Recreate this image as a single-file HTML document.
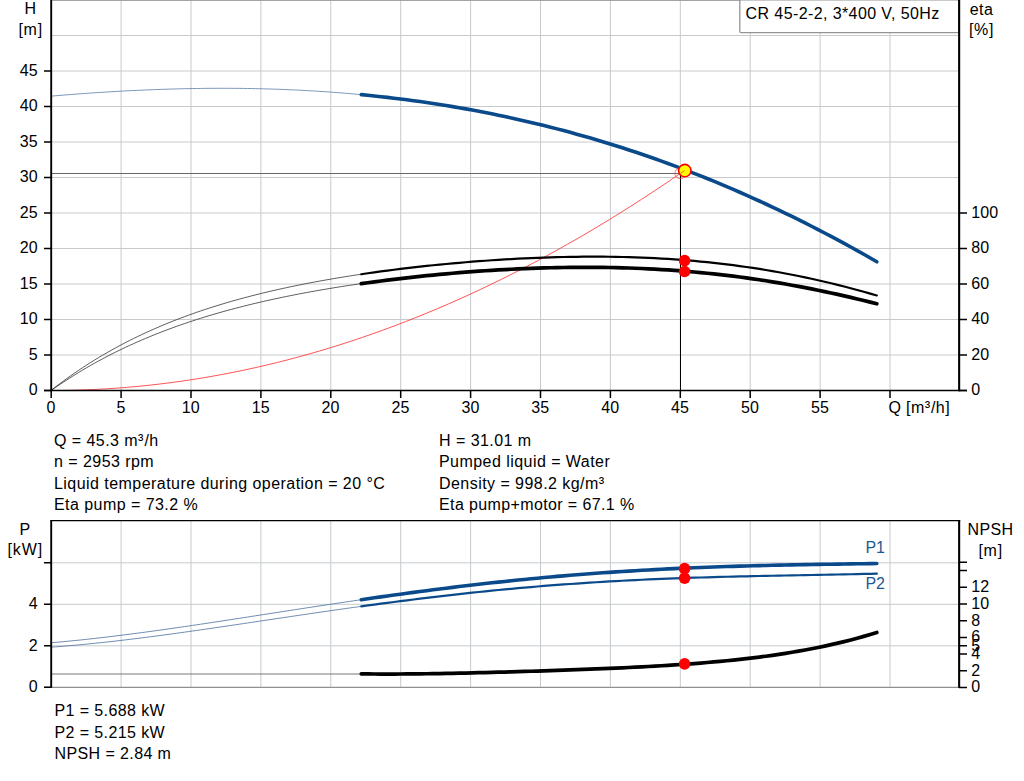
<!DOCTYPE html>
<html><head><meta charset="utf-8"><title>Pump curve</title>
<style>html,body{margin:0;padding:0;background:#fff;width:1024px;height:781px;overflow:hidden}</style></head>
<body>
<svg width="1024" height="781" viewBox="0 0 1024 781" style="position:absolute;left:0;top:0">
<rect width="1024" height="781" fill="#fff"/>
<path d="M121.1,0V390.5 M191.0,0V390.5 M260.9,0V390.5 M330.8,0V390.5 M400.7,0V390.5 M470.6,0V390.5 M540.5,0V390.5 M610.4,0V390.5 M680.3,0V390.5 M750.2,0V390.5 M820.1,0V390.5 M890.0,0V390.5 M51.2,355.00H959 M51.2,319.50H959 M51.2,284.00H959 M51.2,248.50H959 M51.2,213.00H959 M51.2,177.50H959 M51.2,142.00H959 M51.2,106.50H959 M51.2,71.00H959 M51.2,35.50H959" stroke="#c6cacd" stroke-width="1" fill="none"/>
<path d="M52,0.4H959" stroke="#999" stroke-width="1"/>
<path d="M121.1,521V687.3 M191.0,521V687.3 M260.9,521V687.3 M330.8,521V687.3 M400.7,521V687.3 M470.6,521V687.3 M540.5,521V687.3 M610.4,521V687.3 M680.3,521V687.3 M750.2,521V687.3 M820.1,521V687.3 M890.0,521V687.3 M51.2,645.80H959 M51.2,604.30H959 M51.2,562.80H959" stroke="#c6cacd" stroke-width="1" fill="none"/>
<path d="M45,687.3H959" stroke="#909090" stroke-width="1.2"/>
<path d="M51.2,173.5H680.5" stroke="#666" stroke-width="1"/>
<path d="M680.5,173.5V390.5" stroke="#000" stroke-width="1"/>
<path d="M51.20,390.50 L61.93,390.44 L72.67,390.25 L83.40,389.93 L94.14,389.49 L104.87,388.92 L115.60,388.22 L126.34,387.40 L137.07,386.46 L147.80,385.38 L158.54,384.18 L169.27,382.85 L180.01,381.40 L190.74,379.82 L201.47,378.11 L212.21,376.28 L222.94,374.32 L233.67,372.23 L244.41,370.02 L255.14,367.68 L265.88,365.22 L276.61,362.63 L287.34,359.91 L298.08,357.07 L308.81,354.10 L319.54,351.00 L330.28,347.78 L341.01,344.43 L351.75,340.95 L362.48,337.35 L373.21,333.62 L383.95,329.76 L394.68,325.78 L405.42,321.67 L416.15,317.44 L426.88,313.08 L437.62,308.59 L448.35,303.98 L459.08,299.24 L469.82,294.37 L480.55,289.38 L491.29,284.26 L502.02,279.01 L512.75,273.64 L523.49,268.14 L534.22,262.52 L544.95,256.77 L555.69,250.89 L566.42,244.88 L577.16,238.75 L587.89,232.50 L598.62,226.11 L609.36,219.60 L620.09,212.97 L630.83,206.20 L641.56,199.32 L652.29,192.30 L663.03,185.16 L673.76,177.89 L684.49,170.50" stroke="#ff2a2a" stroke-width="0.8" fill="none"/>
<path d="M51.20,96.13 L55.13,95.79 L59.05,95.47 L62.98,95.15 L66.90,94.84 L70.83,94.53 L74.75,94.23 L78.68,93.93 L82.60,93.65 L86.53,93.37 L90.45,93.09 L94.38,92.82 L98.30,92.56 L102.23,92.31 L106.15,92.06 L110.08,91.82 L114.01,91.59 L117.93,91.36 L121.86,91.14 L125.78,90.93 L129.71,90.73 L133.63,90.53 L137.56,90.35 L141.48,90.16 L145.41,89.99 L149.33,89.83 L153.26,89.67 L157.18,89.52 L161.11,89.38 L165.03,89.25 L168.96,89.12 L172.88,89.01 L176.81,88.90 L180.74,88.80 L184.66,88.71 L188.59,88.63 L192.51,88.56 L196.44,88.49 L200.36,88.44 L204.29,88.39 L208.21,88.35 L212.14,88.32 L216.06,88.30 L219.99,88.29 L223.91,88.29 L227.84,88.30 L231.76,88.32 L235.69,88.35 L239.62,88.38 L243.54,88.43 L247.47,88.49 L251.39,88.55 L255.32,88.63 L259.24,88.72 L263.17,88.81 L267.09,88.92 L271.02,89.04 L274.94,89.16 L278.87,89.30 L282.79,89.45 L286.72,89.60 L290.64,89.77 L294.57,89.95 L298.49,90.14 L302.42,90.34 L306.35,90.55 L310.27,90.77 L314.20,91.00 L318.12,91.25 L322.05,91.50 L325.97,91.77 L329.90,92.04 L333.82,92.33 L337.75,92.63 L341.67,92.94 L345.60,93.26 L349.52,93.59 L353.45,93.94 L357.37,94.29 L361.30,94.66" stroke="#5b7ea8" stroke-width="0.8" fill="none"/>
<path d="M361.30,94.66 L367.83,95.30 L374.35,95.97 L380.88,96.67 L387.40,97.40 L393.93,98.17 L400.45,98.97 L406.98,99.81 L413.50,100.68 L420.03,101.58 L426.55,102.52 L433.08,103.49 L439.60,104.50 L446.13,105.54 L452.65,106.62 L459.18,107.73 L465.71,108.88 L472.23,110.07 L478.76,111.29 L485.28,112.55 L491.81,113.85 L498.33,115.18 L504.86,116.55 L511.38,117.96 L517.91,119.40 L524.43,120.89 L530.96,122.41 L537.48,123.97 L544.01,125.57 L550.53,127.20 L557.06,128.88 L563.58,130.59 L570.11,132.35 L576.64,134.14 L583.16,135.97 L589.69,137.85 L596.21,139.76 L602.74,141.71 L609.26,143.70 L615.79,145.74 L622.31,147.81 L628.84,149.93 L635.36,152.08 L641.89,154.28 L648.41,156.51 L654.94,158.79 L661.46,161.11 L667.99,163.48 L674.52,165.88 L681.04,168.33 L687.57,170.81 L694.09,173.34 L700.62,175.92 L707.14,178.53 L713.67,181.19 L720.19,183.89 L726.72,186.63 L733.24,189.42 L739.77,192.25 L746.29,195.12 L752.82,198.04 L759.34,200.99 L765.87,204.00 L772.39,207.04 L778.92,210.13 L785.45,213.26 L791.97,216.44 L798.50,219.66 L805.02,222.93 L811.55,226.24 L818.07,229.59 L824.60,232.99 L831.12,236.43 L837.65,239.91 L844.17,243.44 L850.70,247.02 L857.22,250.64 L863.75,254.30 L870.27,258.01 L876.80,261.77" stroke="#0a4a8a" stroke-width="3.6" fill="none" stroke-linecap="round"/>
<path d="M51.20,390.28 L55.13,387.23 L59.05,384.25 L62.98,381.33 L66.90,378.48 L70.83,375.68 L74.75,372.95 L78.68,370.28 L82.60,367.67 L86.53,365.12 L90.45,362.62 L94.38,360.17 L98.30,357.78 L102.23,355.44 L106.15,353.16 L110.08,350.92 L114.01,348.73 L117.93,346.59 L121.86,344.50 L125.78,342.45 L129.71,340.45 L133.63,338.49 L137.56,336.58 L141.48,334.71 L145.41,332.88 L149.33,331.08 L153.26,329.33 L157.18,327.62 L161.11,325.94 L165.03,324.30 L168.96,322.70 L172.88,321.13 L176.81,319.59 L180.74,318.09 L184.66,316.62 L188.59,315.19 L192.51,313.78 L196.44,312.40 L200.36,311.06 L204.29,309.74 L208.21,308.45 L212.14,307.18 L216.06,305.95 L219.99,304.74 L223.91,303.55 L227.84,302.40 L231.76,301.26 L235.69,300.15 L239.62,299.06 L243.54,297.99 L247.47,296.95 L251.39,295.93 L255.32,294.93 L259.24,293.95 L263.17,292.98 L267.09,292.04 L271.02,291.12 L274.94,290.21 L278.87,289.33 L282.79,288.46 L286.72,287.61 L290.64,286.77 L294.57,285.96 L298.49,285.15 L302.42,284.37 L306.35,283.59 L310.27,282.84 L314.20,282.10 L318.12,281.37 L322.05,280.66 L325.97,279.96 L329.90,279.27 L333.82,278.59 L337.75,277.93 L341.67,277.29 L345.60,276.65 L349.52,276.03 L353.45,275.41 L357.37,274.81 L361.30,274.23" stroke="#333" stroke-width="0.8" fill="none"/>
<path d="M361.30,274.23 L367.83,273.27 L374.35,272.35 L380.88,271.45 L387.40,270.59 L393.93,269.75 L400.45,268.94 L406.98,268.15 L413.50,267.39 L420.03,266.66 L426.55,265.96 L433.08,265.28 L439.60,264.62 L446.13,263.99 L452.65,263.38 L459.18,262.80 L465.71,262.25 L472.23,261.72 L478.76,261.21 L485.28,260.73 L491.81,260.27 L498.33,259.84 L504.86,259.44 L511.38,259.06 L517.91,258.71 L524.43,258.38 L530.96,258.08 L537.48,257.81 L544.01,257.56 L550.53,257.35 L557.06,257.16 L563.58,257.00 L570.11,256.88 L576.64,256.78 L583.16,256.71 L589.69,256.68 L596.21,256.67 L602.74,256.70 L609.26,256.77 L615.79,256.86 L622.31,257.00 L628.84,257.16 L635.36,257.37 L641.89,257.61 L648.41,257.89 L654.94,258.20 L661.46,258.56 L667.99,258.95 L674.52,259.38 L681.04,259.86 L687.57,260.37 L694.09,260.93 L700.62,261.53 L707.14,262.18 L713.67,262.86 L720.19,263.60 L726.72,264.37 L733.24,265.20 L739.77,266.06 L746.29,266.98 L752.82,267.94 L759.34,268.95 L765.87,270.01 L772.39,271.11 L778.92,272.26 L785.45,273.46 L791.97,274.72 L798.50,276.02 L805.02,277.36 L811.55,278.76 L818.07,280.21 L824.60,281.71 L831.12,283.26 L837.65,284.86 L844.17,286.51 L850.70,288.20 L857.22,289.95 L863.75,291.74 L870.27,293.59 L876.80,295.48" stroke="#000" stroke-width="2.2" fill="none" stroke-linecap="round"/>
<path d="M51.20,390.46 L55.13,387.72 L59.05,385.03 L62.98,382.41 L66.90,379.83 L70.83,377.31 L74.75,374.85 L78.68,372.44 L82.60,370.08 L86.53,367.77 L90.45,365.51 L94.38,363.29 L98.30,361.13 L102.23,359.01 L106.15,356.93 L110.08,354.90 L114.01,352.92 L117.93,350.97 L121.86,349.07 L125.78,347.21 L129.71,345.38 L133.63,343.60 L137.56,341.85 L141.48,340.14 L145.41,338.47 L149.33,336.83 L153.26,335.22 L157.18,333.65 L161.11,332.11 L165.03,330.61 L168.96,329.13 L172.88,327.69 L176.81,326.28 L180.74,324.89 L184.66,323.54 L188.59,322.21 L192.51,320.91 L196.44,319.63 L200.36,318.38 L204.29,317.16 L208.21,315.96 L212.14,314.79 L216.06,313.64 L219.99,312.51 L223.91,311.41 L227.84,310.33 L231.76,309.27 L235.69,308.23 L239.62,307.21 L243.54,306.21 L247.47,305.23 L251.39,304.27 L255.32,303.32 L259.24,302.40 L263.17,301.49 L267.09,300.60 L271.02,299.73 L274.94,298.88 L278.87,298.04 L282.79,297.22 L286.72,296.41 L290.64,295.62 L294.57,294.84 L298.49,294.07 L302.42,293.33 L306.35,292.59 L310.27,291.87 L314.20,291.16 L318.12,290.47 L322.05,289.79 L325.97,289.12 L329.90,288.46 L333.82,287.81 L337.75,287.18 L341.67,286.56 L345.60,285.95 L349.52,285.35 L353.45,284.77 L357.37,284.19 L361.30,283.62" stroke="#333" stroke-width="0.8" fill="none"/>
<path d="M361.30,283.62 L367.83,282.71 L374.35,281.82 L380.88,280.96 L387.40,280.13 L393.93,279.32 L400.45,278.55 L406.98,277.80 L413.50,277.07 L420.03,276.37 L426.55,275.70 L433.08,275.05 L439.60,274.42 L446.13,273.83 L452.65,273.25 L459.18,272.70 L465.71,272.18 L472.23,271.68 L478.76,271.21 L485.28,270.76 L491.81,270.34 L498.33,269.95 L504.86,269.58 L511.38,269.23 L517.91,268.92 L524.43,268.63 L530.96,268.37 L537.48,268.13 L544.01,267.93 L550.53,267.75 L557.06,267.60 L563.58,267.48 L570.11,267.39 L576.64,267.33 L583.16,267.30 L589.69,267.31 L596.21,267.34 L602.74,267.41 L609.26,267.51 L615.79,267.64 L622.31,267.81 L628.84,268.01 L635.36,268.24 L641.89,268.51 L648.41,268.81 L654.94,269.15 L661.46,269.53 L667.99,269.95 L674.52,270.40 L681.04,270.88 L687.57,271.41 L694.09,271.98 L700.62,272.58 L707.14,273.22 L713.67,273.90 L720.19,274.62 L726.72,275.38 L733.24,276.18 L739.77,277.02 L746.29,277.90 L752.82,278.83 L759.34,279.79 L765.87,280.79 L772.39,281.83 L778.92,282.91 L785.45,284.03 L791.97,285.20 L798.50,286.40 L805.02,287.64 L811.55,288.92 L818.07,290.24 L824.60,291.60 L831.12,292.99 L837.65,294.42 L844.17,295.89 L850.70,297.40 L857.22,298.94 L863.75,300.52 L870.27,302.13 L876.80,303.77" stroke="#000" stroke-width="3.7" fill="none" stroke-linecap="round"/>
<path d="M51.20,642.76 L55.13,642.42 L59.05,642.07 L62.98,641.70 L66.90,641.33 L70.83,640.95 L74.75,640.56 L78.68,640.16 L82.60,639.75 L86.53,639.33 L90.45,638.90 L94.38,638.46 L98.30,638.02 L102.23,637.56 L106.15,637.10 L110.08,636.63 L114.01,636.16 L117.93,635.67 L121.86,635.18 L125.78,634.69 L129.71,634.18 L133.63,633.67 L137.56,633.16 L141.48,632.64 L145.41,632.11 L149.33,631.58 L153.26,631.04 L157.18,630.50 L161.11,629.95 L165.03,629.40 L168.96,628.84 L172.88,628.28 L176.81,627.71 L180.74,627.14 L184.66,626.57 L188.59,626.00 L192.51,625.42 L196.44,624.83 L200.36,624.25 L204.29,623.66 L208.21,623.07 L212.14,622.48 L216.06,621.88 L219.99,621.28 L223.91,620.68 L227.84,620.08 L231.76,619.48 L235.69,618.88 L239.62,618.27 L243.54,617.66 L247.47,617.06 L251.39,616.45 L255.32,615.84 L259.24,615.23 L263.17,614.62 L267.09,614.01 L271.02,613.40 L274.94,612.79 L278.87,612.18 L282.79,611.58 L286.72,610.97 L290.64,610.36 L294.57,609.75 L298.49,609.15 L302.42,608.54 L306.35,607.94 L310.27,607.34 L314.20,606.74 L318.12,606.14 L322.05,605.54 L325.97,604.95 L329.90,604.36 L333.82,603.77 L337.75,603.18 L341.67,602.59 L345.60,602.01 L349.52,601.42 L353.45,600.85 L357.37,600.27 L361.30,599.70" stroke="#4a6f9c" stroke-width="0.8" fill="none"/>
<path d="M361.30,599.70 L367.83,598.75 L374.35,597.81 L380.88,596.88 L387.40,595.97 L393.93,595.06 L400.45,594.16 L406.98,593.27 L413.50,592.39 L420.03,591.52 L426.55,590.67 L433.08,589.83 L439.60,589.00 L446.13,588.18 L452.65,587.38 L459.18,586.58 L465.71,585.80 L472.23,585.04 L478.76,584.29 L485.28,583.55 L491.81,582.83 L498.33,582.12 L504.86,581.43 L511.38,580.75 L517.91,580.08 L524.43,579.43 L530.96,578.80 L537.48,578.18 L544.01,577.57 L550.53,576.98 L557.06,576.41 L563.58,575.85 L570.11,575.30 L576.64,574.77 L583.16,574.26 L589.69,573.76 L596.21,573.28 L602.74,572.81 L609.26,572.36 L615.79,571.92 L622.31,571.49 L628.84,571.08 L635.36,570.69 L641.89,570.31 L648.41,569.94 L654.94,569.58 L661.46,569.25 L667.99,568.92 L674.52,568.61 L681.04,568.31 L687.57,568.02 L694.09,567.75 L700.62,567.48 L707.14,567.23 L713.67,566.99 L720.19,566.77 L726.72,566.55 L733.24,566.34 L739.77,566.15 L746.29,565.96 L752.82,565.78 L759.34,565.61 L765.87,565.45 L772.39,565.30 L778.92,565.16 L785.45,565.02 L791.97,564.89 L798.50,564.76 L805.02,564.64 L811.55,564.53 L818.07,564.42 L824.60,564.31 L831.12,564.21 L837.65,564.11 L844.17,564.01 L850.70,563.92 L857.22,563.82 L863.75,563.72 L870.27,563.63 L876.80,563.53" stroke="#0a4a8a" stroke-width="3.6" fill="none" stroke-linecap="round"/>
<path d="M51.20,647.16 L55.13,646.87 L59.05,646.57 L62.98,646.25 L66.90,645.92 L70.83,645.59 L74.75,645.24 L78.68,644.88 L82.60,644.51 L86.53,644.13 L90.45,643.74 L94.38,643.34 L98.30,642.93 L102.23,642.52 L106.15,642.09 L110.08,641.66 L114.01,641.22 L117.93,640.77 L121.86,640.31 L125.78,639.84 L129.71,639.37 L133.63,638.89 L137.56,638.41 L141.48,637.91 L145.41,637.41 L149.33,636.91 L153.26,636.40 L157.18,635.88 L161.11,635.36 L165.03,634.84 L168.96,634.30 L172.88,633.77 L176.81,633.23 L180.74,632.68 L184.66,632.14 L188.59,631.58 L192.51,631.03 L196.44,630.47 L200.36,629.91 L204.29,629.34 L208.21,628.77 L212.14,628.20 L216.06,627.63 L219.99,627.06 L223.91,626.48 L227.84,625.90 L231.76,625.32 L235.69,624.74 L239.62,624.16 L243.54,623.57 L247.47,622.99 L251.39,622.40 L255.32,621.82 L259.24,621.23 L263.17,620.64 L267.09,620.06 L271.02,619.47 L274.94,618.88 L278.87,618.30 L282.79,617.71 L286.72,617.13 L290.64,616.55 L294.57,615.96 L298.49,615.38 L302.42,614.80 L306.35,614.22 L310.27,613.65 L314.20,613.07 L318.12,612.50 L322.05,611.93 L325.97,611.36 L329.90,610.79 L333.82,610.23 L337.75,609.66 L341.67,609.11 L345.60,608.55 L349.52,608.00 L353.45,607.44 L357.37,606.90 L361.30,606.35" stroke="#4a6f9c" stroke-width="0.8" fill="none"/>
<path d="M361.30,606.35 L367.83,605.46 L374.35,604.57 L380.88,603.69 L387.40,602.82 L393.93,601.97 L400.45,601.12 L406.98,600.29 L413.50,599.47 L420.03,598.66 L426.55,597.86 L433.08,597.08 L439.60,596.31 L446.13,595.55 L452.65,594.81 L459.18,594.08 L465.71,593.37 L472.23,592.67 L478.76,591.98 L485.28,591.31 L491.81,590.65 L498.33,590.01 L504.86,589.39 L511.38,588.78 L517.91,588.18 L524.43,587.60 L530.96,587.04 L537.48,586.49 L544.01,585.96 L550.53,585.44 L557.06,584.94 L563.58,584.45 L570.11,583.98 L576.64,583.53 L583.16,583.09 L589.69,582.66 L596.21,582.25 L602.74,581.85 L609.26,581.47 L615.79,581.10 L622.31,580.75 L628.84,580.41 L635.36,580.08 L641.89,579.77 L648.41,579.47 L654.94,579.18 L661.46,578.91 L667.99,578.65 L674.52,578.39 L681.04,578.15 L687.57,577.93 L694.09,577.71 L700.62,577.50 L707.14,577.30 L713.67,577.11 L720.19,576.93 L726.72,576.76 L733.24,576.59 L739.77,576.43 L746.29,576.28 L752.82,576.14 L759.34,576.00 L765.87,575.86 L772.39,575.73 L778.92,575.60 L785.45,575.48 L791.97,575.36 L798.50,575.24 L805.02,575.11 L811.55,574.99 L818.07,574.87 L824.60,574.75 L831.12,574.63 L837.65,574.50 L844.17,574.36 L850.70,574.23 L857.22,574.09 L863.75,573.94 L870.27,573.78 L876.80,573.61" stroke="#0a4a8a" stroke-width="2.2" fill="none" stroke-linecap="round"/>
<path d="M51.2,674H361.30" stroke="#555" stroke-width="0.8" fill="none"/>
<path d="M361.30,673.88 L367.83,673.95 L374.35,674.00 L380.88,674.04 L387.40,674.05 L393.93,674.04 L400.45,674.01 L406.98,673.97 L413.50,673.91 L420.03,673.84 L426.55,673.76 L433.08,673.66 L439.60,673.56 L446.13,673.44 L452.65,673.31 L459.18,673.18 L465.71,673.03 L472.23,672.88 L478.76,672.72 L485.28,672.56 L491.81,672.39 L498.33,672.21 L504.86,672.03 L511.38,671.84 L517.91,671.65 L524.43,671.46 L530.96,671.25 L537.48,671.05 L544.01,670.84 L550.53,670.62 L557.06,670.40 L563.58,670.18 L570.11,669.94 L576.64,669.71 L583.16,669.46 L589.69,669.21 L596.21,668.95 L602.74,668.68 L609.26,668.41 L615.79,668.12 L622.31,667.82 L628.84,667.51 L635.36,667.19 L641.89,666.86 L648.41,666.51 L654.94,666.15 L661.46,665.77 L667.99,665.37 L674.52,664.95 L681.04,664.51 L687.57,664.05 L694.09,663.57 L700.62,663.06 L707.14,662.53 L713.67,661.96 L720.19,661.37 L726.72,660.74 L733.24,660.08 L739.77,659.39 L746.29,658.65 L752.82,657.88 L759.34,657.07 L765.87,656.21 L772.39,655.30 L778.92,654.35 L785.45,653.34 L791.97,652.29 L798.50,651.17 L805.02,650.00 L811.55,648.77 L818.07,647.47 L824.60,646.11 L831.12,644.68 L837.65,643.17 L844.17,641.59 L850.70,639.94 L857.22,638.20 L863.75,636.38 L870.27,634.47 L876.80,632.47" stroke="#000" stroke-width="3.7" fill="none" stroke-linecap="round"/>
<rect x="739.8" y="-0.2" width="219" height="32.9" rx="1.5" fill="#fff" stroke="#949494" stroke-width="1.3"/>
<path d="M51.2,0V391.2" stroke="#000" stroke-width="1.9" fill="none"/>
<path d="M959.15,0V391.2" stroke="#000" stroke-width="2.1" fill="none"/>
<path d="M44,390.5H967" stroke="#000" stroke-width="1.5" fill="none"/>
<path d="M44,390.50H51 M44,355.00H51 M44,319.50H51 M44,284.00H51 M44,248.50H51 M44,213.00H51 M44,177.50H51 M44,142.00H51 M44,106.50H51 M44,71.00H51 M959,390.50H967 M959,355.00H967 M959,319.50H967 M959,284.00H967 M959,248.50H967 M959,213.00H967 M51.20,390.5V398 M121.10,390.5V398 M191.00,390.5V398 M260.90,390.5V398 M330.80,390.5V398 M400.70,390.5V398 M470.60,390.5V398 M540.50,390.5V398 M610.40,390.5V398 M680.30,390.5V398 M750.20,390.5V398 M820.10,390.5V398 M890.00,390.5V398" stroke="#000" stroke-width="1.5" fill="none"/>
<path d="M51.2,520V687.8" stroke="#000" stroke-width="1.9" fill="none"/>
<path d="M959.15,520V687.8" stroke="#000" stroke-width="2.1" fill="none"/>
<path d="M50.4,520.6H960.2" stroke="#000" stroke-width="1.2" fill="none"/>
<path d="M44,687.30H51 M44,645.80H51 M44,604.30H51 M44,562.80H51 M959,687.50H967 M959,670.80H967 M959,654.10H967 M959,645.75H967 M959,637.40H967 M959,620.70H967 M959,604.00H967 M959,587.30H967 M959,570.60H967 M959,562.25H967" stroke="#000" stroke-width="1.5" fill="none"/>
<circle cx="680.2" cy="173.4" r="5.3" fill="none" stroke="#ff3b3b" stroke-width="0.7"/>
<circle cx="684.8" cy="170.6" r="6.2" fill="#ffff00" stroke="#f00" stroke-width="1.6"/>
<path d="M680.2,173.4L684.8,170.6" stroke="#ff2a2a" stroke-width="0.7"/>
<circle cx="684.6" cy="260.6" r="5.8" fill="#ff0000"/>
<circle cx="684.6" cy="271.5" r="5.8" fill="#ff0000"/>
<circle cx="684.6" cy="568.6" r="5.8" fill="#ff0000"/>
<circle cx="684.6" cy="578.2" r="5.8" fill="#ff0000"/>
<circle cx="684.6" cy="663.9" r="5.8" fill="#ff0000"/>
<g font-family="Liberation Sans, sans-serif" font-size="16px">
<text x="745.6" y="18.8" text-anchor="start" fill="#000" letter-spacing="0.4">CR 45-2-2, 3*400 V, 50Hz</text>
<text x="30.5" y="14.2" text-anchor="middle" fill="#000" letter-spacing="0.4">H</text>
<text x="30.7" y="34.8" text-anchor="middle" fill="#000" letter-spacing="0.8">[m]</text>
<text x="981.5" y="14.5" text-anchor="middle" fill="#000" letter-spacing="0.4">eta</text>
<text x="981.5" y="34.8" text-anchor="middle" fill="#000" letter-spacing="0.6">[%]</text>
<text x="37.8" y="395.3" text-anchor="end" fill="#000" letter-spacing="0.1">0</text>
<text x="37.8" y="359.8" text-anchor="end" fill="#000" letter-spacing="0.1">5</text>
<text x="37.8" y="324.3" text-anchor="end" fill="#000" letter-spacing="0.1">10</text>
<text x="37.8" y="288.8" text-anchor="end" fill="#000" letter-spacing="0.1">15</text>
<text x="37.8" y="253.3" text-anchor="end" fill="#000" letter-spacing="0.1">20</text>
<text x="37.8" y="217.8" text-anchor="end" fill="#000" letter-spacing="0.1">25</text>
<text x="37.8" y="182.3" text-anchor="end" fill="#000" letter-spacing="0.1">30</text>
<text x="37.8" y="146.8" text-anchor="end" fill="#000" letter-spacing="0.1">35</text>
<text x="37.8" y="111.3" text-anchor="end" fill="#000" letter-spacing="0.1">40</text>
<text x="37.8" y="75.8" text-anchor="end" fill="#000" letter-spacing="0.1">45</text>
<text x="971.3" y="395.3" text-anchor="start" fill="#000" letter-spacing="0.1">0</text>
<text x="971.3" y="359.8" text-anchor="start" fill="#000" letter-spacing="0.1">20</text>
<text x="971.3" y="324.3" text-anchor="start" fill="#000" letter-spacing="0.1">40</text>
<text x="971.3" y="288.8" text-anchor="start" fill="#000" letter-spacing="0.1">60</text>
<text x="971.3" y="253.3" text-anchor="start" fill="#000" letter-spacing="0.1">80</text>
<text x="971.3" y="217.8" text-anchor="start" fill="#000" letter-spacing="0.1">100</text>
<text x="51.0" y="412.7" text-anchor="middle" fill="#000" letter-spacing="0.1">0</text>
<text x="120.9" y="412.7" text-anchor="middle" fill="#000" letter-spacing="0.1">5</text>
<text x="190.8" y="412.7" text-anchor="middle" fill="#000" letter-spacing="0.1">10</text>
<text x="260.70000000000005" y="412.7" text-anchor="middle" fill="#000" letter-spacing="0.1">15</text>
<text x="330.6" y="412.7" text-anchor="middle" fill="#000" letter-spacing="0.1">20</text>
<text x="400.5" y="412.7" text-anchor="middle" fill="#000" letter-spacing="0.1">25</text>
<text x="470.40000000000003" y="412.7" text-anchor="middle" fill="#000" letter-spacing="0.1">30</text>
<text x="540.3" y="412.7" text-anchor="middle" fill="#000" letter-spacing="0.1">35</text>
<text x="610.2" y="412.7" text-anchor="middle" fill="#000" letter-spacing="0.1">40</text>
<text x="680.1" y="412.7" text-anchor="middle" fill="#000" letter-spacing="0.1">45</text>
<text x="750.0" y="412.7" text-anchor="middle" fill="#000" letter-spacing="0.1">50</text>
<text x="819.9" y="412.7" text-anchor="middle" fill="#000" letter-spacing="0.1">55</text>
<text x="888.4" y="412.9" text-anchor="start" fill="#000" letter-spacing="0.4">Q [m<tspan dy="-0.9" font-size="16.3" letter-spacing="0.9">³</tspan><tspan dy="0.9">/h]</tspan></text>
<text x="54" y="445.6" text-anchor="start" fill="#000" letter-spacing="0.45">Q = 45.3 m<tspan dy="-0.9" font-size="16.3" letter-spacing="0.9">³</tspan><tspan dy="0.9">/h</tspan></text>
<text x="54" y="466.7" text-anchor="start" fill="#000" letter-spacing="0.45">n = 2953 rpm</text>
<text x="54" y="488.5" text-anchor="start" fill="#000" letter-spacing="0.45">Liquid temperature during operation = 20 °C</text>
<text x="54" y="509.6" text-anchor="start" fill="#000" letter-spacing="0.45">Eta pump = 73.2 %</text>
<text x="439" y="445.6" text-anchor="start" fill="#000" letter-spacing="0.46">H = 31.01 m</text>
<text x="439" y="466.7" text-anchor="start" fill="#000" letter-spacing="0.45">Pumped liquid = Water</text>
<text x="439" y="488.5" text-anchor="start" fill="#000" letter-spacing="0.45">Density = 998.2 kg/m<tspan dy="-0.9" font-size="16.3" letter-spacing="0.9">³</tspan></text>
<text x="439" y="509.6" text-anchor="start" fill="#000" letter-spacing="0.38">Eta pump+motor = 67.1 %</text>
<text x="25" y="534.8" text-anchor="middle" fill="#000" letter-spacing="0.4">P</text>
<text x="25.3" y="554.8" text-anchor="middle" fill="#000" letter-spacing="0.9">[kW]</text>
<text x="990.5" y="534.5" text-anchor="middle" fill="#000" letter-spacing="0.4">NPSH</text>
<text x="990.7" y="555.6" text-anchor="middle" fill="#000" letter-spacing="0.8">[m]</text>
<text x="37.8" y="692.0999999999999" text-anchor="end" fill="#000" letter-spacing="0.1">0</text>
<text x="37.8" y="650.5999999999999" text-anchor="end" fill="#000" letter-spacing="0.1">2</text>
<text x="37.8" y="609.0999999999999" text-anchor="end" fill="#000" letter-spacing="0.1">4</text>
<text x="971.3" y="692.3" text-anchor="start" fill="#000" letter-spacing="0.1">0</text>
<text x="971.3" y="675.5999999999999" text-anchor="start" fill="#000" letter-spacing="0.1">2</text>
<text x="971.3" y="658.9" text-anchor="start" fill="#000" letter-spacing="0.1">4</text>
<text x="971.3" y="650.55" text-anchor="start" fill="#000" letter-spacing="0.1">5</text>
<text x="971.3" y="642.1999999999999" text-anchor="start" fill="#000" letter-spacing="0.1">6</text>
<text x="971.3" y="625.5" text-anchor="start" fill="#000" letter-spacing="0.1">8</text>
<text x="971.3" y="608.8" text-anchor="start" fill="#000" letter-spacing="0.1">10</text>
<text x="971.3" y="592.0999999999999" text-anchor="start" fill="#000" letter-spacing="0.1">12</text>
<text x="865.4" y="552.9" text-anchor="start" fill="#1c5894" letter-spacing="0">P1</text>
<text x="865.4" y="588.8" text-anchor="start" fill="#1c5894" letter-spacing="0">P2</text>
<text x="54.5" y="716" text-anchor="start" fill="#000" letter-spacing="0.4">P1 = 5.688 kW</text>
<text x="54.5" y="737.5" text-anchor="start" fill="#000" letter-spacing="0.4">P2 = 5.215 kW</text>
<text x="54.5" y="758.7" text-anchor="start" fill="#000" letter-spacing="0.4">NPSH = 2.84 m</text>
</g>
</svg>
</body></html>
